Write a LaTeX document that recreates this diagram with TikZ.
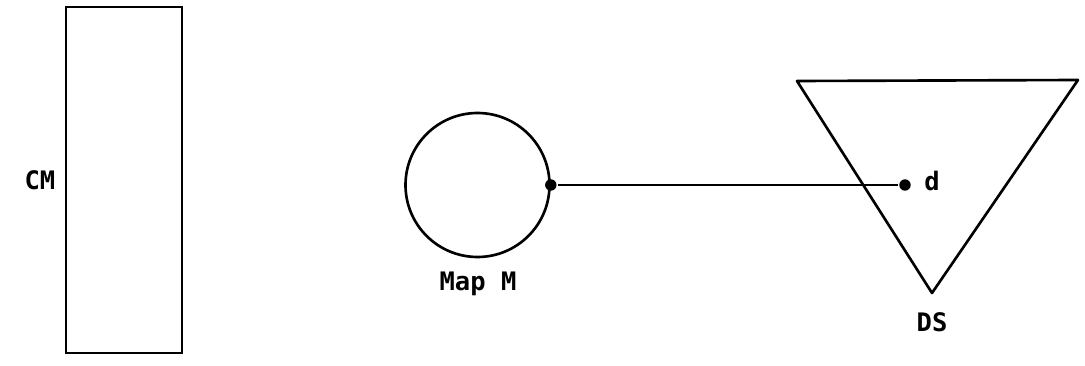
\documentclass[tikz,border=0pt]{standalone}
\usepackage{fontspec}
\setmonofont{DejaVu Sans Mono}
\usetikzlibrary{positioning}

\begin{document}
\begin{tikzpicture}[line width=1.5pt,font=\ttfamily\bfseries\fontsize{14.5}{16}\selectfont,
 lbl/.style={inner sep=1pt},
 pin/.style={circle,fill,inner sep=0pt,minimum size=6.5pt}]
\useasboundingbox (0,0) rectangle (21.7,7.3);
\node[draw,rectangle,minimum width=2.32cm,minimum height=6.92cm] (cm) at (2.48,3.70) {};
\node[lbl] (cmlbl) at (0.8,3.7) {CM};
\node[draw,circle,minimum size=2.88cm] (map) at (9.55,3.6) {};
\node[lbl] (maplbl) at (9.56,1.62) {Map M};
% the triangle DS
\coordinate (tl) at (15.94,5.68);
\coordinate (tr) at (21.56,5.70);
\coordinate (tb) at (18.64,1.44);
\draw[line join=round] (tl) -- (tr) -- (tb) -- cycle;
\node[lbl] (dslbl) at (18.64,0.86) {DS};
\node[pin] (m) at (map.east) {};
\node[pin] (d) at (18.10,3.60) {};
\node[lbl] (dlbl) at (18.64,3.68) {d};
\draw (m) -- (d);
\end{tikzpicture}
\end{document}
